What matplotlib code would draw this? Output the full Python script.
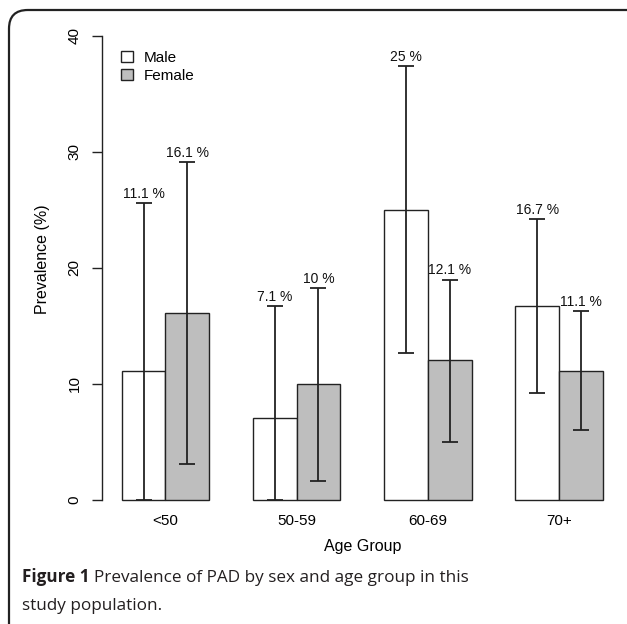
import matplotlib
matplotlib.use('Agg')
import matplotlib.pyplot as plt
from matplotlib.patches import FancyBboxPatch, Patch
import numpy as np

groups = ['<50', '50-59', '60-69', '70+']
male = [11.1, 7.1, 25.0, 16.7]
female = [16.1, 10.0, 12.1, 11.1]
male_lo = [0.0, 0.0, 12.7, 9.2]
male_hi = [25.6, 16.7, 37.4, 24.2]
female_lo = [3.1, 1.6, 5.0, 6.0]
female_hi = [29.1, 18.3, 19.0, 16.3]
male_labels = ['11.1 %', '7.1 %', '25 %', '16.7 %']
female_labels = ['16.1 %', '10 %', '12.1 %', '11.1 %']

FONT = ['Liberation Sans', 'DejaVu Sans']
plt.rcParams['font.family'] = FONT

W, H = 627, 624
fig = plt.figure(figsize=(W / 100, H / 100), dpi=100)

# rounded frame
frame = FancyBboxPatch((9 / W, -0.2), 1.2, 1 - 10 / H + 0.2,
                       boxstyle='round,pad=0,rounding_size=0.03',
                       transform=fig.transFigure, fill=False,
                       edgecolor='#222222', linewidth=1.6)
fig.patches.append(frame)

ax_l, ax_r, ax_t, ax_b = 102.4, 622, 17.4, 500
ax = fig.add_axes([ax_l / W, (H - ax_b) / H, (ax_r - ax_l) / W, (ax_b - ax_t) / H])

n = len(groups)
xm = np.array([1.5 + 3 * i for i in range(n)])
xf = xm + 1

ax.bar(xm, male, width=1, color='white', edgecolor='#222222', linewidth=1.0, clip_on=False, zorder=2)
ax.bar(xf, female, width=1, color='#bebebe', edgecolor='#222222', linewidth=1.0, clip_on=False, zorder=2)

for xs, vals, lo, hi, labs in [(xm, male, male_lo, male_hi, male_labels),
                               (xf, female, female_lo, female_hi, female_labels)]:
    vals = np.array(vals)
    yerr = np.vstack([vals - np.array(lo), np.array(hi) - vals])
    ax.errorbar(xs, vals, yerr=yerr, fmt='none', ecolor='#222222', elinewidth=1.3,
                capsize=5.8, capthick=1.3, clip_on=False, zorder=3)
    for x, h, t in zip(xs, hi, labs):
        ax.annotate(t, (x, h), xytext=(0, 1.5), textcoords='offset points',
                    ha='center', va='bottom', fontsize=10, color='#111111')

ax.set_xlim(0.56, 12.44)
ax.set_ylim(0, 41.6)
for s in ['top', 'right', 'bottom']:
    ax.spines[s].set_visible(False)
ax.spines['left'].set_bounds(0, 40)
ax.spines['left'].set_linewidth(1.0)
ax.spines['left'].set_color('#222222')
ax.set_yticks([0, 10, 20, 30, 40])
ax.tick_params(axis='y', length=7, width=1.0, color='#222222', pad=8, labelsize=11)
for lab in ax.get_yticklabels():
    lab.set_rotation(90)
    lab.set_va('center')
ax.set_xticks(xm + 0.5)
ax.set_xticklabels(groups)
ax.tick_params(axis='x', length=0, pad=10, labelsize=11)

ax.set_ylabel('Prevalence (%)', fontsize=11.5, va='center')
ax.yaxis.set_label_coords((43 - ax_l) / (ax_r - ax_l), 0.5)
ax.set_xlabel('Age Group', fontsize=11.5, va='center')
ax.xaxis.set_label_coords(0.5, -(546 - ax_b) / (ax_b - ax_t))

handles = [Patch(facecolor='white', edgecolor='#222222', linewidth=1.0, label='Male'),
           Patch(facecolor='#bebebe', edgecolor='#222222', linewidth=1.0, label='Female')]
ax.legend(handles=handles, loc='upper left', frameon=False, fontsize=11,
          handlelength=0.75, handleheight=0.75, handletextpad=0.75, labelspacing=0.25,
          borderaxespad=0, bbox_to_anchor=((115 - ax_l) / (ax_r - ax_l), 1 - (45 - ax_t) / (ax_b - ax_t)))

# caption
cap_font = ['Open Sans', 'DejaVu Sans']
cs = 12.3
t1 = fig.text(22 / W, 1 - 582 / H, 'Figure 1', fontsize=cs, fontweight='bold',
              family=cap_font, color='#231f20', va='baseline', ha='left')
fig.canvas.draw()
bb = t1.get_window_extent()
sp = 4.5
fig.text((bb.x1 + sp) / W, 1 - 582 / H, 'Prevalence of PAD by sex and age group in this',
         fontsize=cs, family=cap_font, color='#231f20', va='baseline', ha='left')
fig.text(22 / W, 1 - 610 / H, 'study population.', fontsize=cs,
         family=cap_font, color='#231f20', va='baseline', ha='left')

fig.savefig('out.png', dpi=100)
